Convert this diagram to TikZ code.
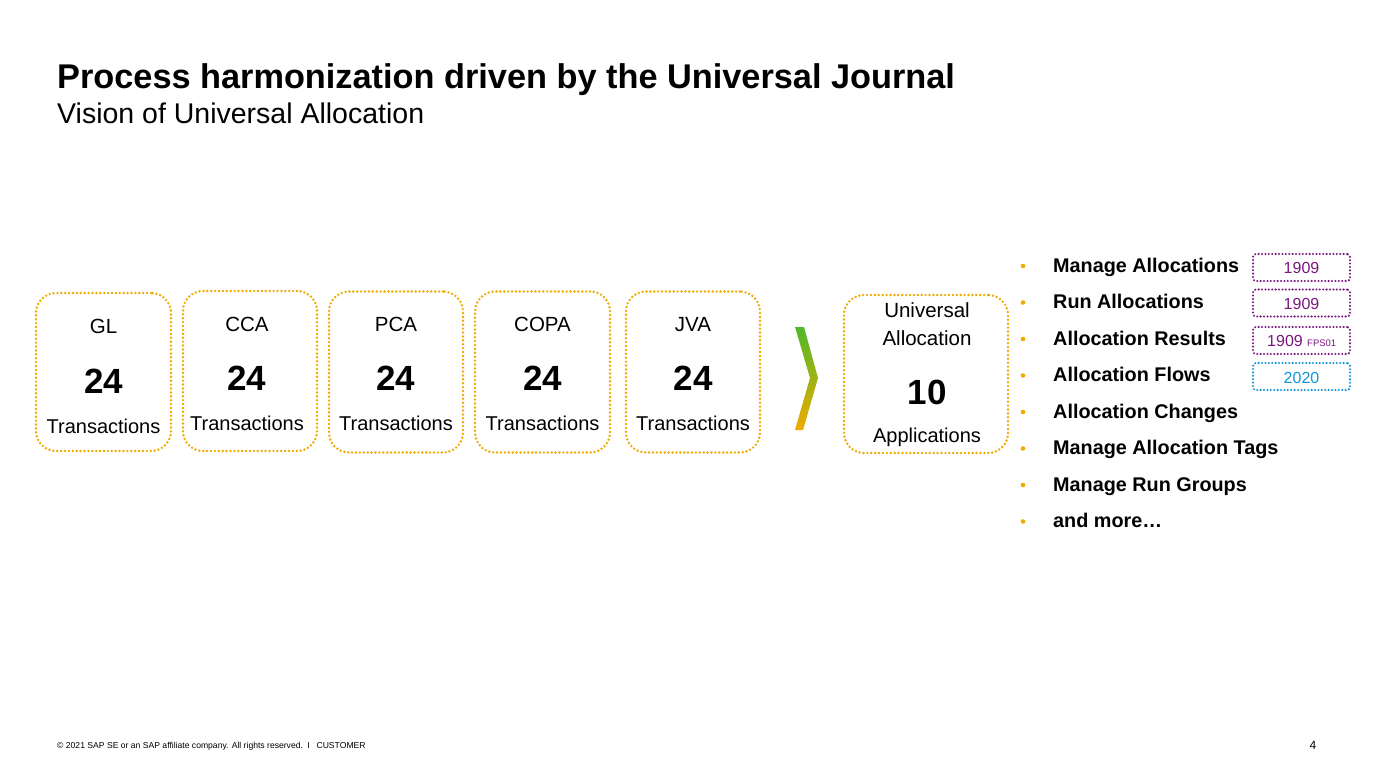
\documentclass[tikz,border=0pt]{standalone}
\usepackage{fontspec}
\setmainfont{Liberation Sans}
\definecolor{saporange}{RGB}{240,171,0}
\definecolor{sapgreen}{RGB}{80,185,40}
\definecolor{sappurple}{RGB}{122,24,128}
\definecolor{sapblue}{RGB}{16,150,218}
\tikzset{
  pbox/.style={draw=saporange, line width=2.7, line cap=round, dash pattern=on 0 off 3.9, rounded corners=20, inner sep=0},
  lbl/.style={font=\fontsize{20.5}{24}\selectfont, inner sep=0, anchor=base},
  tr/.style={font=\fontsize{20}{24}\selectfont, inner sep=0, anchor=base},
  num/.style={font=\fontsize{35}{40}\selectfont\bfseries, inner sep=0, anchor=base},
  item/.style={font=\fontsize{19.8}{22}\selectfont\bfseries, anchor=base west, inner sep=0},
  bul/.style={circle, fill=saporange, inner sep=0, minimum size=4.6},
  ver/.style={line width=2.3, line cap=round, dash pattern=on 0 off 3.4, rounded corners=3, minimum width=97, minimum height=27, inner sep=0},
  vtxt/.style={font=\fontsize{16}{18}\selectfont, inner sep=0, anchor=base}
}
\begin{document}
\begin{tikzpicture}[x=1pt,y=-1pt]
\useasboundingbox (0,0) rectangle (1373,773);
\fill[white] (0,0) rectangle (1373,773);
% title
\node[anchor=base west, inner sep=0, font=\fontsize{34.3}{40}\selectfont\bfseries] (title) at (57,89) {Process harmonization driven by the Universal Journal};
\node[anchor=base west, inner sep=0, font=\fontsize{28.5}{32}\selectfont] (sub) at (57,124) {Vision of Universal Allocation};
% boxes
\node[pbox, minimum width=135, minimum height=158] (gl) at (103.5,372) {};
\node[pbox, minimum width=134, minimum height=160] (cca) at (250,371) {};
\node[pbox, minimum width=134, minimum height=161] (pca) at (396,372) {};
\node[pbox, minimum width=135, minimum height=161] (copa) at (542.5,372) {};
\node[pbox, minimum width=134, minimum height=161] (jva) at (693,372) {};
\node[pbox, minimum width=164, minimum height=158] (ua) at (926,374) {};
% box texts
\node[lbl] (gl-a) at (103.5,333) {GL};
\node[num] (gl-b) at (103.5,393) {24};
\node[tr] (gl-c) at (103.5,433) {Transactions};
\foreach \n/\x/\t in {cca/247/CCA, pca/396/PCA, copa/542.5/COPA, jva/693/JVA}{
  \node[lbl] (\n-a) at (\x,331) {\t};
  \node[num] (\n-b) at (\x,390) {24};
  \node[tr] (\n-c) at (\x,430) {Transactions};
}
\node[lbl] (ua-a) at (927,317) {Universal};
\node[lbl] (ua-b) at (927,345) {Allocation};
\node[num] (ua-c) at (927,404) {10};
\node[tr] (ua-d) at (927,442) {Applications};
% chevron
\shade[top color=sapgreen, bottom color=saporange]
  (795,327) -- (804,327) -- (818,378) -- (803,430) -- (795,430) -- (810,378) -- cycle;
% list
\foreach \i/\t in {1/Manage Allocations, 2/Run Allocations, 3/Allocation Results, 4/Allocation Flows, 5/Allocation Changes, 6/Manage Allocation Tags, 7/Manage Run Groups, 8/and more\dots}{
  \pgfmathsetmacro{\yb}{272+36.5*(\i-1)}
  \node[bul] (bul\i) at (1023,\yb-6) {};
  \node[item] (it\i) at (1053,\yb) {\t};
}
% version boxes
\node[ver, draw=sappurple] (v1) at (1301.5,267.5) {};
\node[ver, draw=sappurple] (v2) at (1301.5,303) {};
\node[ver, draw=sappurple] (v3) at (1301.5,340.5) {};
\node[ver, draw=sapblue] (v4) at (1301.5,376.5) {};
\node[vtxt, text=sappurple] (v1t) at (1301.5,273) {1909};
\node[vtxt, text=sappurple] (v2t) at (1301.5,309) {1909};
\node[vtxt, text=sappurple, anchor=base east] (v3t) at (1303,346) {1909};
\node[inner sep=0, anchor=base west, text=sappurple, font=\fontsize{9.5}{11}\selectfont] (v3s) at (1307,346) {FPS01};
\node[vtxt, text=sapblue] (v4t) at (1301.5,383) {2020};
% footer
\node[anchor=base west, inner sep=0, font=\fontsize{8.6}{10}\selectfont] (foot) at (57,748) {\textcopyright{} 2021 SAP SE or an SAP affiliate company. All rights reserved.\hspace{0.5em}I\hspace{0.8em}CUSTOMER};
\node[anchor=base, inner sep=0, font=\fontsize{12}{14}\selectfont] (page) at (1313,749) {4};
\end{tikzpicture}
\end{document}
